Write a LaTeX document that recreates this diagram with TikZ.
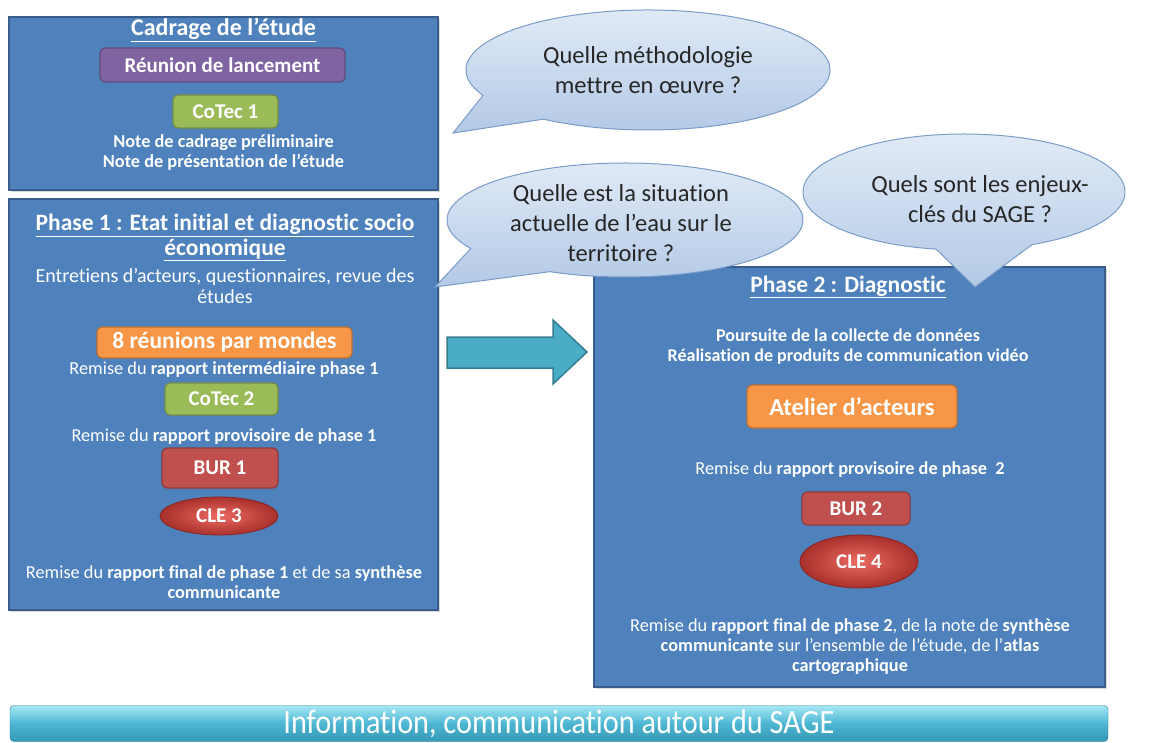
\documentclass[tikz,border=0pt]{standalone}
\usepackage{fontspec}
\setmainfont{Carlito}[Ligatures=NoCommon]
\usetikzlibrary{calc}
\usetikzlibrary{shapes.geometric}
\usetikzlibrary{shadows}
\definecolor{boxBlue}{HTML}{4F81BD}
\definecolor{boxLine}{HTML}{385D8A}
\definecolor{tagPurple}{HTML}{8064A2}
\definecolor{tagGreen}{HTML}{9BBB59}
\definecolor{tagOrange}{HTML}{F79646}
\definecolor{tagRed}{HTML}{C0504D}
\definecolor{cleLight}{HTML}{EC6A62}
\definecolor{cleDark}{HTML}{A9302B}
\definecolor{bubbleTop}{HTML}{E3ECF7}
\definecolor{bubbleBot}{HTML}{B3C9E6}
\definecolor{bubbleLine}{HTML}{7A9CC9}
\definecolor{arrowFill}{HTML}{4BACC6}
\definecolor{arrowLine}{HTML}{357D91}
\definecolor{barLight}{HTML}{A5E8F6}
\definecolor{barMid}{HTML}{4DB6D2}
\definecolor{barDark}{HTML}{3599B6}
\tikzset{
  phase/.style = {draw=boxLine, fill=boxBlue, line width=1.8pt, inner sep=0pt,
    drop shadow={shadow xshift=2pt, shadow yshift=-2pt, opacity=0.3}},
  head/.style = {text=white, font=\fontsize{23.5}{25}\selectfont\bfseries, align=center, inner sep=0pt},
  note/.style = {text=white, font=\fontsize{18.3}{20}\selectfont, align=center, inner sep=0pt},
  tag/.style = {draw=#1!75!black, fill=#1, line width=1.2pt, rounded corners=5pt, text=white,
    font=\fontsize{21}{22}\selectfont\bfseries, inner sep=0pt},
  meeting/.style = {ellipse, draw=cleDark!80!black, inner color=cleLight, outer color=cleDark,
    line width=0.8pt, text=white, font=\fontsize{21}{22}\selectfont\bfseries, inner sep=0pt},
  bubble/.style = {draw=bubbleLine, line width=1pt, top color=bubbleTop, bottom color=bubbleBot},
  question/.style = {text=black!85, font=\fontsize{24.5}{30}\selectfont, align=center, inner sep=0pt},
  flow/.style = {draw=arrowLine, fill=arrowFill, line width=1.5pt, line join=miter},
  band/.style = {draw=barDark!80!black, rounded corners=4pt, top color=barLight, bottom color=barDark,
    middle color=barMid, inner sep=0pt}
}

\begin{document}
\begin{tikzpicture}[x=1pt, y=-1pt]
    \useasboundingbox (0,0) rectangle (1149,742);

    % Coordinates
    \coordinate (C1) at (648,70);
    \coordinate (C2) at (625,220);
    \coordinate (C3) at (964,192);
    \coordinate (T1) at (453,133);
    \coordinate (T2) at (435,287);
    \coordinate (T3) at (975,287);

    % Body
    \node[phase, minimum width=429, minimum height=173] (cadrage) at (223.5,103.5) {};
    \node[phase, minimum width=429, minimum height=411] (phase1) at (223.5,404.5) {};
    \node[phase, minimum width=511, minimum height=420] (phase2) at (849.5,477) {};

    % Cadrage
    \node[head, font=\fontsize{24}{25}\selectfont\bfseries] (cadTitle) at (223.5,30) {\underline{Cadrage de l’étude}};
    \node[tag=tagPurple, minimum width=245, minimum height=34] (reunion) at (222.5,65) {Réunion de lancement};
    \node[tag=tagGreen, minimum width=105, minimum height=33] (cotec1) at (225.5,111.5) {CoTec 1};
    \node[note, font=\fontsize{18.3}{20}\selectfont\bfseries] (cadNotes) at (223.5,153) {Note de cadrage préliminaire\\Note de présentation de l’étude};

    % Phase 1
    \node[head] (p1Title) at (225,237.5) {\underline{Phase 1 : Etat initial et diagnostic socio}\\\underline{économique}};
    \node[note, font=\fontsize{20}{21}\selectfont] (p1Survey) at (225,286) {Entretiens d’acteurs, questionnaires, revue des\\études};
    \node[tag=tagOrange, minimum width=255, minimum height=31, font=\fontsize{23.5}{24}\selectfont\bfseries] (mondes) at (224.5,342.5) {8 réunions par mondes};
    \node[note] (p1Inter) at (224,370) {Remise du \textbf{rapport intermédiaire phase 1}};
    \node[tag=tagGreen, minimum width=113, minimum height=32] (cotec2) at (221.5,399) {CoTec 2};
    \node[note] (p1Prov) at (224,437) {Remise du \textbf{rapport provisoire de phase 1}};
    \node[tag=tagRed, minimum width=116, minimum height=40] (bur1) at (220,468) {BUR 1};
    \node[meeting, minimum width=118, minimum height=38] (cle3) at (219,516) {CLE 3};
    \node[note] (p1Final) at (224,582) {Remise du \textbf{rapport final de phase 1} et de sa \textbf{synthèse}\\\textbf{communicante}};

    % Phase 2
    \node[head] (p2Title) at (848,287) {\underline{Phase 2 : Diagnostic}};
    \node[note, font=\fontsize{18}{20}\selectfont\bfseries] (p2Collect) at (848,347) {Poursuite de la collecte de données\\Réalisation de produits de communication vidéo};
    \node[tag=tagOrange, minimum width=210, minimum height=43, font=\fontsize{24.5}{26}\selectfont\bfseries] (atelier) at (852,406.5) {Atelier d’acteurs};
    \node[note] (p2Prov) at (850,470) {Remise du \textbf{rapport provisoire de phase~~2}};
    \node[tag=tagRed, minimum width=108, minimum height=33] (bur2) at (856,508.5) {BUR 2};
    \node[meeting, minimum width=118, minimum height=53] (cle4) at (859,561.5) {CLE 4};
    \node[note] (p2Final) at (850,647) {Remise du \textbf{rapport final de phase 2}, de la note de \textbf{synthèse}\\\textbf{communicante} sur l’ensemble de l’étude, de l’\textbf{atlas}\\\textbf{cartographique}};

    % Arrow
    \draw[flow] (447,337) -- (553,337) -- (553,320) -- (587,352) -- (553,384) -- (553,368) -- (447,368) -- cycle;

    % Questions
    \draw[bubble] ($(C1)+(155:182 and 60)$) arc[start angle=155, end angle=485, x radius=182, y radius=60] -- (T1) -- cycle;
    \node[question] (q1) at (648,70) {Quelle méthodologie\\mettre en œuvre ?};
    \draw[bubble] ($(C2)+(150:178 and 57)$) arc[start angle=150, end angle=475, x radius=178, y radius=57] -- (T2) -- cycle;
    \node[question, font=\fontsize{24.5}{30}\selectfont] (q2) at (621,223) {Quelle est la situation\\actuelle de l’eau sur le\\territoire ?};
    \draw[bubble] ($(C3)+(100:161 and 58)$) arc[start angle=100, end angle=425, x radius=161, y radius=58] -- (T3) -- cycle;
    \node[question] (q3) at (980,199) {Quels sont les enjeux-\\clés du SAGE ?};

    % Information
    \node[band, minimum width=1098, minimum height=36] (info) at (559,723.5) {};
    \node[text=white, font=\fontsize{34}{36}\selectfont, xscale=0.89] (infoText) at (info) {Information, communication autour du SAGE};

\end{tikzpicture}
\end{document}
